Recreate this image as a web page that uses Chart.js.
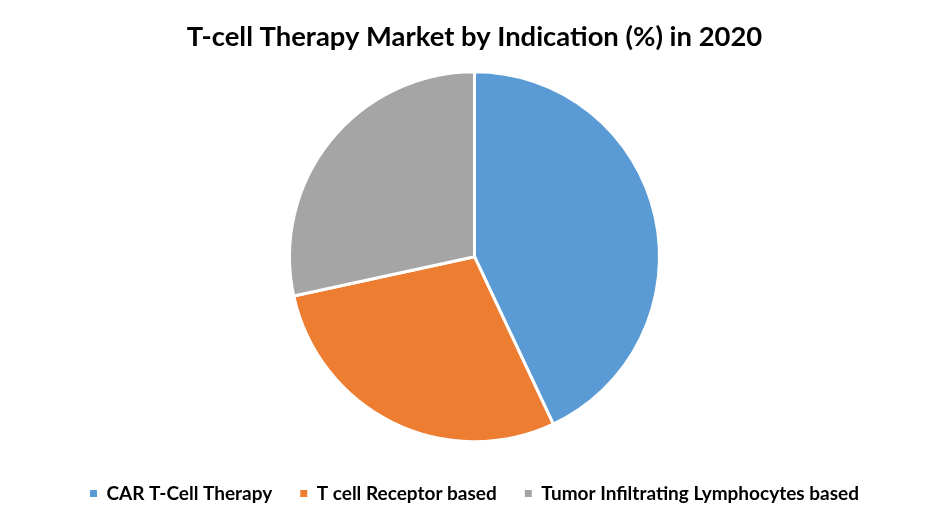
<!DOCTYPE html>
<html>
<head>
<meta charset="utf-8">
<script src="https://cdn.jsdelivr.net/npm/chart.js@4"></script>
<style>
html,body{margin:0;padding:0;background:#fff;}
#wrap{width:941px;height:531px;}
</style>
</head>
<body>
<div id="wrap"><canvas id="c" width="941" height="531"></canvas></div>
<script>
const categories = ["CAR T-Cell Therapy", "T cell Receptor based", "Tumor Infiltrating Lymphocytes based"];
const shares = [43.0, 28.6, 28.4];
const colors = ["#5B9BD5", "#ED7D31", "#A5A5A5"];
const titleText = "T-cell Therapy Market by Indication (%) in 2020";

new Chart(document.getElementById('c'), {
  type: 'pie',
  data: {
    labels: categories,
    datasets: [{
      data: shares,
      backgroundColor: colors,
      borderColor: '#ffffff',
      borderWidth: 3,
      radius: 185
    }]
  },
  options: {
    responsive: false,
    animation: false,
    layout: { padding: { top: 0, bottom: 18, left: 8, right: 0 } },
    plugins: {
      title: {
        display: true,
        text: titleText,
        color: '#000000',
        font: { family: 'Lato', size: 27.4, weight: 'bold' },
        padding: { top: 21, bottom: 3.5 }
      },
      legend: {
        position: 'bottom',
        labels: {
          color: '#000000',
          font: { family: 'Lato', size: 19, weight: 'bold' },
          boxWidth: 7,
          boxHeight: 7,
          padding: 28,
          generateLabels: function (chart) {
            const items = Chart.overrides.pie.plugins.legend.labels.generateLabels(chart);
            items.forEach(function (it) { it.lineWidth = 0; it.strokeStyle = it.fillStyle; });
            return items;
          }
        }
      },
      tooltip: { enabled: false }
    }
  }
});
</script>
</body>
</html>
